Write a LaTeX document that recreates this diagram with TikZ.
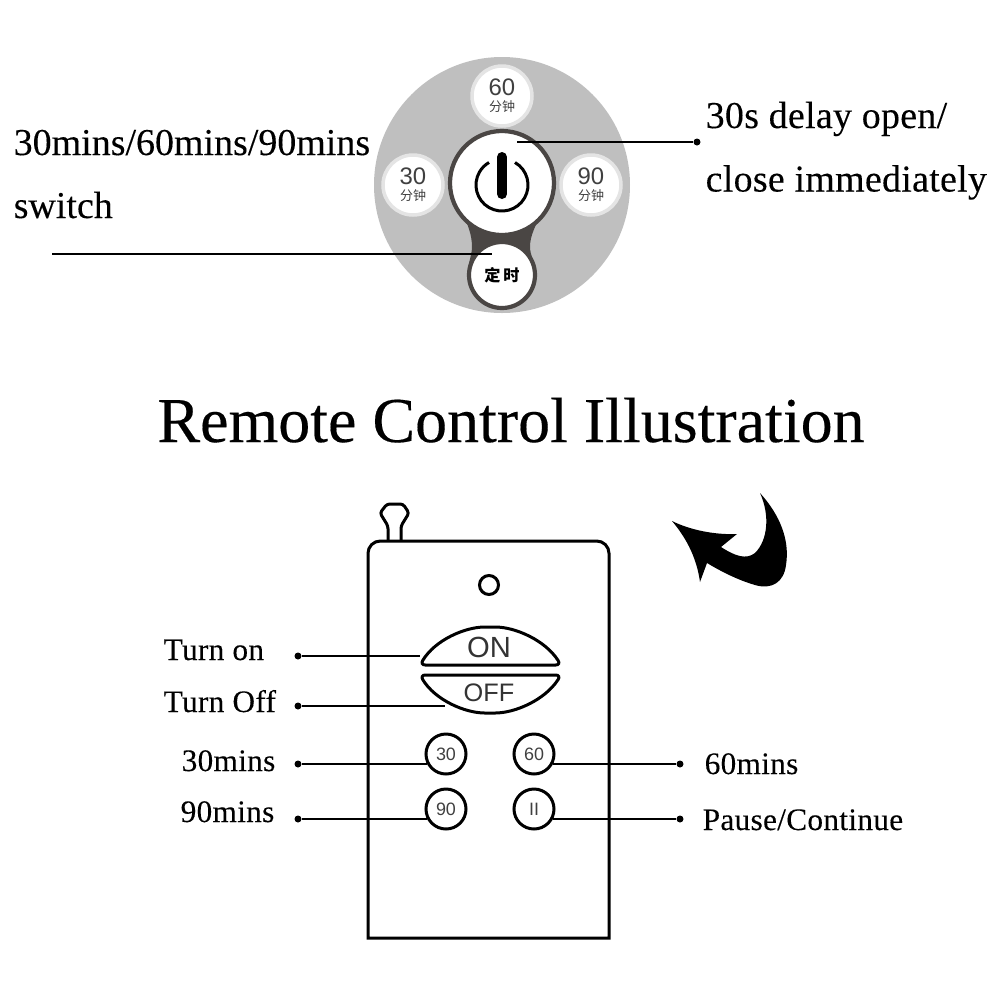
\documentclass[tikz,border=0pt]{standalone}
\usepackage{fontspec}
\setmainfont{Liberation Serif}
\setsansfont{Liberation Sans}
\newfontfamily\cjk{Noto Sans CJK SC}
\usetikzlibrary{arrows.meta,positioning,calc}

\definecolor{panelgray}{HTML}{BFBFBF}
\definecolor{ringgray}{HTML}{E4E4E4}
\definecolor{neckgray}{HTML}{4A4644}

\tikzset{
  biglabel/.style={anchor=base west, inner sep=0pt, font=\fontsize{10.8}{12}\selectfont\addfontfeatures{FakeBold=0.2}},
  smalllabel/.style={anchor=base west, inner sep=0pt, font=\fontsize{8.9}{10}\selectfont\addfontfeatures{LetterSpace=1,FakeBold=0.2}},
  timerkey/.style={circle, fill=white, draw=ringgray, line width=0.35mm, minimum size=6mm, inner sep=0pt, align=center,
    text=black!75, font=\sffamily\fontsize{6.8}{4.5}\selectfont},
  remotekey/.style={circle, draw=black, line width=0.3mm, minimum size=4mm, inner sep=0pt, text=black!75, font=\sffamily\fontsize{5.1}{6}\selectfont},
  leader/.style={black, line width=0.13mm},
  enddot/.style={circle, fill=black, minimum size=0.7mm, inner sep=0pt},
}

\newcommand{\minutekey}[1]{#1\\{\cjk\fontsize{3.7}{4}\selectfont 分钟}}

\begin{document}
\begin{tikzpicture}[x=0.1mm, y=-0.1mm]
  \useasboundingbox (0,0) rectangle (1000,1000);

  % timer panel
  \fill[panelgray] (502,185) circle[radius=128];
  \node[timerkey] (key60) at (502,96) {\minutekey{60}};
  \node[timerkey] (key30) at (413,185) {\minutekey{30}};
  \node[timerkey] (key90) at (591,185) {\minutekey{90}};
  \fill[neckgray] (462,212) .. controls (468,225) and (472,235) .. (472,247)
    .. controls (472,255) and (468,262) .. (468,275) -- (535,275)
    .. controls (535,262) and (530,255) .. (530,247)
    .. controls (530,235) and (536,225) .. (542,212) -- cycle;
  \node[circle, fill=white, draw=neckgray, line width=0.42mm, minimum size=10.4mm, inner sep=0pt] (power) at (502,183) {};
  \node[circle, fill=white, draw=neckgray, line width=0.42mm, minimum size=6.6mm, inner sep=0pt,
        font=\cjk\fontsize{4.6}{5}\selectfont\bfseries] (timer) at (502,275) {定\,时};

  % power symbol
  \draw[black, line width=0.3mm] ({502+26*cos(60)},{185-26*sin(60)})
    arc[start angle=-60, end angle=240, radius=26];
  \draw[black, line width=1mm, line cap=round] (502,157) -- (502,194);

  % panel callouts
  \coordinate (powerend) at (517,142);
  \coordinate (timerend) at (492,254);
  \coordinate (timerfree) at (52,254);
  \node[enddot] (powerdot) at (697,142) {};
  \draw[leader] (powerdot) -- (powerend);
  \draw[leader] (timerfree) -- (timerend);
  \node[biglabel] (delayone) at (705,128) {\addfontfeatures{LetterSpace=0.7,FakeBold=0.2}30s delay open/};
  \node[biglabel] (delaytwo) at (705,191.5) {\addfontfeatures{LetterSpace=0.7,FakeBold=0.2}close immediately};
  \node[biglabel] (switchone) at (13,155) {30mins/60mins/90mins};
  \node[biglabel] (switchtwo) at (13,218) {switch};

  % title
  \node[anchor=base, inner sep=0pt, font=\fontsize{18.2}{22}\selectfont\addfontfeatures{FakeBold=0.25}] (title) at (511,442) {Remote Control Illustration};

  % curved arrow
  \fill[black] (672,521) .. controls (690,530) and (715,535) .. (737,534) -- (721,547)
    .. controls (735,556) and (746,560) .. (755,553)
    .. controls (768,540) and (770,515) .. (760,493)
    .. controls (780,515) and (790,540) .. (786,565)
    .. controls (784,582) and (772,590) .. (755,585)
    .. controls (738,580) and (722,572) .. (707,563) -- (700,582)
    .. controls (697,560) and (688,540) .. (672,521) -- cycle;

  % remote body
  \draw[black, line width=0.3mm] (368,938) [rounded corners=3.5pt] -- (368,541) -- (609,541) [sharp corners] -- (609,938) -- cycle;
  \draw[black, line width=0.3mm, rounded corners=0.8pt] (388,541) -- (388,526) -- (380,513) -- (387,504) -- (403,504) -- (409,513)
    -- (401,526) -- (401,541);
  \node[circle, draw=black, line width=0.3mm, minimum size=1.9mm, inner sep=0pt] (lamp) at (489,585) {};

  % remote keys
  \draw[black, line width=0.3mm, rounded corners=1.5pt] (420,665)
    .. controls (435,640) and (465,627) .. (490,627)
    .. controls (515,627) and (545,640) .. (561,665) -- cycle;
  \draw[black, line width=0.3mm, rounded corners=1.5pt] (420,675)
    .. controls (435,700) and (465,713) .. (490,713)
    .. controls (515,713) and (545,700) .. (561,675) -- cycle;
  \node[text=black!80, font=\sffamily\fontsize{8.3}{9}\selectfont, inner sep=0pt] (onkey) at (489,647) {ON};
  \node[text=black!80, font=\sffamily\fontsize{7.2}{8}\selectfont, inner sep=0pt] (offkey) at (489,693) {OFF};
  \node[remotekey] (btn30) at (446,754) {30};
  \node[remotekey] (btn60) at (534,754) {60};
  \node[remotekey] (btn90) at (446,809) {90};
  \node[remotekey] (btnpause) at (534,809) {II};

  % remote callouts
  \coordinate (onend) at (420,656);
  \coordinate (offend) at (445,706);
  \node[enddot] (ondot) at (298,656) {};
  \node[enddot] (offdot) at (298,706) {};
  \node[enddot] (dot30) at (298,764) {};
  \node[enddot] (dot90) at (298,819) {};
  \node[enddot] (dot60) at (680,764) {};
  \node[enddot] (dotpause) at (680,819) {};
  \draw[leader] (ondot) -- (onend);
  \draw[leader] (offdot) -- (offend);
  \draw[leader] (dot30) -- (dot30 -| btn30.210);
  \draw[leader] (dot90) -- (dot90 -| btn90.210);
  \draw[leader] (dot60) -- (dot60 -| btn60.-30);
  \draw[leader] (dotpause) -- (dotpause -| btnpause.-30);
  \node[smalllabel] (onlabel) at (163,660) {Turn on};
  \node[smalllabel] (offlabel) at (163,712) {Turn Off};
  \node[smalllabel] (label30) at (181,771) {30mins};
  \node[smalllabel] (label90) at (180,822) {90mins};
  \node[smalllabel] (label60) at (704,774) {60mins};
  \node[smalllabel] (labelpause) at (702,830) {Pause/Continue};
\end{tikzpicture}
\end{document}
